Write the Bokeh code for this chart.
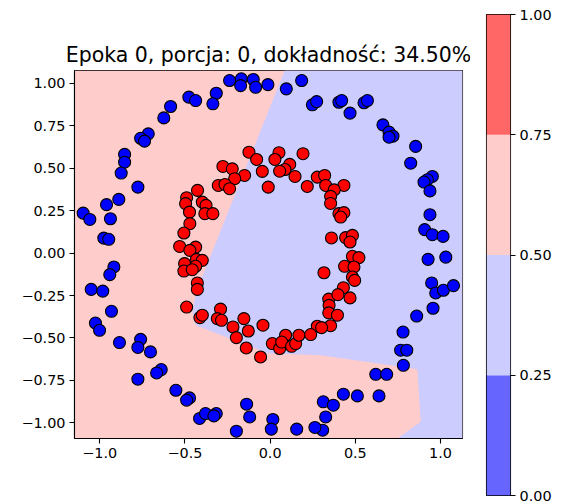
from bokeh.plotting import figure
from bokeh.layouts import row
from bokeh.models import Range1d, FixedTicker, LinearAxis
from bokeh.embed import file_html
from bokeh.resources import INLINE

# ---------------- data ----------------
title_text = "Epoka 0, porcja: 0, dokładność: 34.50%"

x_limits = [-1.148, 1.129]
y_limits = [-1.092, 1.075]

x_ticks = [-1.0, -0.5, 0.0, 0.5, 1.0]
x_tick_labels = ["\u22121.0", "\u22120.5", "0.0", "0.5", "1.0"]
y_ticks = [-1.0, -0.75, -0.5, -0.25, 0.0, 0.25, 0.5, 0.75, 1.0]
y_tick_labels = ["\u22121.00", "\u22120.75", "\u22120.50", "\u22120.25", "0.00", "0.25", "0.50", "0.75", "1.00"]

# decision regions (contour levels)
levels = [0.0, 0.25, 0.5, 0.75, 1.0]
level_colors = ["#6666ff", "#ccccff", "#ffcccc", "#ff6666"]
cb_tick_labels = ["0.00", "0.25", "0.50", "0.75", "1.00"]

# region with p in [0.25, 0.5) (class 0 side); rest of the plane is [0.5, 0.75)
region_low_x = [0.085, 1.129, 1.129, 0.747, 0.884, 0.864, 0.297, -0.009, -0.437, -0.455, -0.437]
region_low_y = [1.075, 1.075, -1.092, -1.092, -0.994, -0.684, -0.602, -0.590, -0.425, -0.349, -0.237]

# class 0 (outer circle, blue)
blue_x = [-0.477, -0.437, -0.584, -0.624, -0.715, -0.760, -0.737, -0.854, -0.854, -0.874,
          -0.776, -0.316, -0.336, -0.238, -0.169, -0.173, -0.099, -0.085, -0.013, 0.095,
          0.185, 0.248, 0.273, 0.404, 0.420, 0.551, 0.571, 0.469, 0.662, 0.698,
          0.721, 0.698, 0.854, 0.825, 0.952, 0.923, 0.903, 0.938, -0.888, -0.960,
          -1.097, -1.058, -0.937, -0.976, -0.947, -0.917, -0.941, -1.050, -0.982, -0.931,
          0.938, 0.907, 0.952, 1.015, 0.927, 1.031, 0.948, 0.972, 1.017, 1.076,
          0.956, 0.860, 0.780, 0.766, 0.802, 0.782, 0.620, 0.684, 0.430, 0.512,
          0.639, 0.312, 0.371, 0.326, 0.308, -1.025, -1.001, -0.884, -0.760, -0.776,
          -0.702, -0.639, -0.666, -0.776, -0.553, -0.473, -0.490, -0.414, -0.379, -0.316,
          -0.330, -0.138, -0.120, -0.198, 0.016, 0.007, 0.156, 0.263]
blue_y = [0.918, 0.898, 0.863, 0.796, 0.702, 0.676, 0.659, 0.581, 0.535, 0.471,
          0.388, 0.941, 0.879, 1.016, 1.026, 0.986, 1.022, 0.976, 0.992, 0.967,
          1.016, 0.873, 0.892, 0.888, 0.898, 0.885, 0.898, 0.824, 0.755, 0.712,
          0.688, 0.682, 0.628, 0.529, 0.451, 0.432, 0.418, 0.366, 0.316, 0.285,
          0.235, 0.198, 0.202, 0.088, 0.081, -0.082, -0.127, -0.214, -0.224, -0.343,
          0.226, 0.138, 0.108, 0.098, -0.037, -0.024, -0.176, -0.235, -0.219, -0.192,
          -0.325, -0.371, -0.465, -0.572, -0.572, -0.661, -0.714, -0.714, -0.831, -0.841,
          -0.841, -0.876, -0.896, -0.965, -1.043, -0.412, -0.455, -0.527, -0.508, -0.556,
          -0.582, -0.686, -0.706, -0.743, -0.808, -0.853, -0.866, -0.974, -0.945, -0.945,
          -0.959, -0.890, -0.965, -1.049, -0.980, -1.037, -1.037, -1.027]

# class 1 (inner circle, red)
red_x = [-0.124, -0.079, 0.052, 0.028, 0.193, 0.115, 0.087, 0.056, -0.277, -0.222,
         -0.150, -0.208, -0.046, 0.146, 0.277, 0.320, -0.304, -0.265, -0.011, 0.218,
         0.326, -0.426, 0.433, 0.376, -0.238, -0.490, -0.496, -0.398, -0.376, -0.473,
         -0.383, -0.336, -0.471, -0.506, -0.531, -0.437, -0.471, -0.432, -0.398, -0.502,
         -0.437, -0.506, -0.457, -0.427, -0.427, -0.490, 0.355, 0.355, 0.360, 0.316,
         0.344, -0.291, 0.404, 0.433, 0.414, 0.443, 0.483, 0.469, 0.483, 0.521,
         0.437, 0.492, 0.483, 0.496, 0.430, 0.398, 0.469, 0.346, 0.344, 0.395,
         0.355, 0.277, 0.302, -0.412, -0.398, -0.310, -0.285, -0.154, -0.218, -0.198,
         -0.128, -0.042, -0.140, -0.056, 0.013, 0.056, 0.091, 0.068, 0.126, 0.150,
         0.169, 0.238]
red_y = [0.594, 0.551, 0.591, 0.551, 0.585, 0.522, 0.492, 0.482, 0.510, 0.496,
         0.457, 0.438, 0.481, 0.451, 0.447, 0.457, 0.398, 0.404, 0.388, 0.392,
         0.398, 0.369, 0.398, 0.372, 0.379, 0.326, 0.291, 0.300, 0.281, 0.241,
         0.232, 0.232, 0.173, 0.118, 0.039, 0.035, 0.016, -0.037, -0.043, -0.062,
         -0.078, -0.106, -0.098, -0.176, -0.214, -0.318, 0.334, 0.292, 0.089, -0.116,
         -0.271, -0.330, 0.232, 0.238, 0.212, 0.091, 0.104, 0.065, -0.019, -0.027,
         -0.078, -0.082, -0.141, -0.161, -0.204, -0.245, -0.264, -0.308, -0.352, -0.366,
         -0.428, -0.431, -0.439, -0.380, -0.366, -0.386, -0.396, -0.386, -0.435, -0.498,
         -0.459, -0.425, -0.559, -0.612, -0.533, -0.562, -0.484, -0.524, -0.549, -0.533,
         -0.484, -0.480]

FONT = "DejaVu Sans"

# ---------------- main plot ----------------
p = figure(width=470, height=503, output_backend="svg", toolbar_location=None,
           x_range=Range1d(x_limits[0], x_limits[1]),
           y_range=Range1d(y_limits[0], y_limits[1]),
           min_border_left=74, min_border_right=8, min_border_top=70, min_border_bottom=65,
           title=title_text)
p.frame_align = False
p.title.align = "center"
p.title.text_font = FONT
p.title.text_font_size = "20.5px"
p.title.text_font_style = "normal"
p.title.text_color = "black"
p.title.standoff = 8

p.xgrid.visible = False
p.ygrid.visible = False
p.outline_line_color = "black"
p.outline_line_width = 1.1
p.background_fill_color = "white"
p.border_fill_color = "white"

# upper-class region fills whole extent, lower-class region on top
p.quad(left=[x_limits[0]], right=[x_limits[1]], bottom=[y_limits[0]], top=[y_limits[1]],
       fill_color=level_colors[2], line_color=None)
p.patch(region_low_x, region_low_y, fill_color=level_colors[1], line_color=None)

p.scatter(blue_x, blue_y, size=12, fill_color="#0000ff", line_color="black", line_width=1.1)
p.scatter(red_x, red_y, size=12, fill_color="#ff0000", line_color="black", line_width=1.1)

for ax, ticks, labels in ((p.xaxis[0], x_ticks, x_tick_labels), (p.yaxis[0], y_ticks, y_tick_labels)):
    ax.ticker = FixedTicker(ticks=ticks)
    ax.major_label_overrides = {t: l for t, l in zip(ticks, labels)}
    ax.minor_tick_line_color = None
    ax.major_tick_in = 0
    ax.major_tick_out = 5
    ax.major_tick_line_color = "black"
    ax.major_tick_line_width = 1.1
    ax.axis_line_color = "black"
    ax.axis_line_width = 1.1
    ax.major_label_text_font = FONT
    ax.major_label_text_font_size = "14.4px"
    ax.major_label_text_color = "black"
    ax.major_label_standoff = 4

# ---------------- colorbar ----------------
cb = figure(width=92, height=503, output_backend="svg", toolbar_location=None,
            x_range=Range1d(0, 1), y_range=Range1d(levels[0], levels[-1]),
            min_border_left=16, min_border_right=52, min_border_top=14, min_border_bottom=8,
            x_axis_location=None, y_axis_location=None)
cb.frame_align = False
cb.xgrid.visible = False
cb.ygrid.visible = False
cb.outline_line_color = "black"
cb.outline_line_width = 1.1
cb.border_fill_color = "white"
cb.quad(left=0, right=1, bottom=levels[:-1], top=levels[1:], fill_color=level_colors, line_color=None)
cax = LinearAxis(ticker=FixedTicker(ticks=levels),
                 major_label_overrides={t: l for t, l in zip(levels, cb_tick_labels)})
cax.minor_tick_line_color = None
cax.major_tick_in = 0
cax.major_tick_out = 5
cax.major_tick_line_width = 1.1
cax.axis_line_color = None
cax.major_label_text_font = FONT
cax.major_label_text_font_size = "14.4px"
cax.major_label_text_color = "black"
cax.major_label_standoff = 4
cb.add_layout(cax, "right")

layout = row(p, cb)
open("out.html", "w").write(file_html(layout, INLINE))
